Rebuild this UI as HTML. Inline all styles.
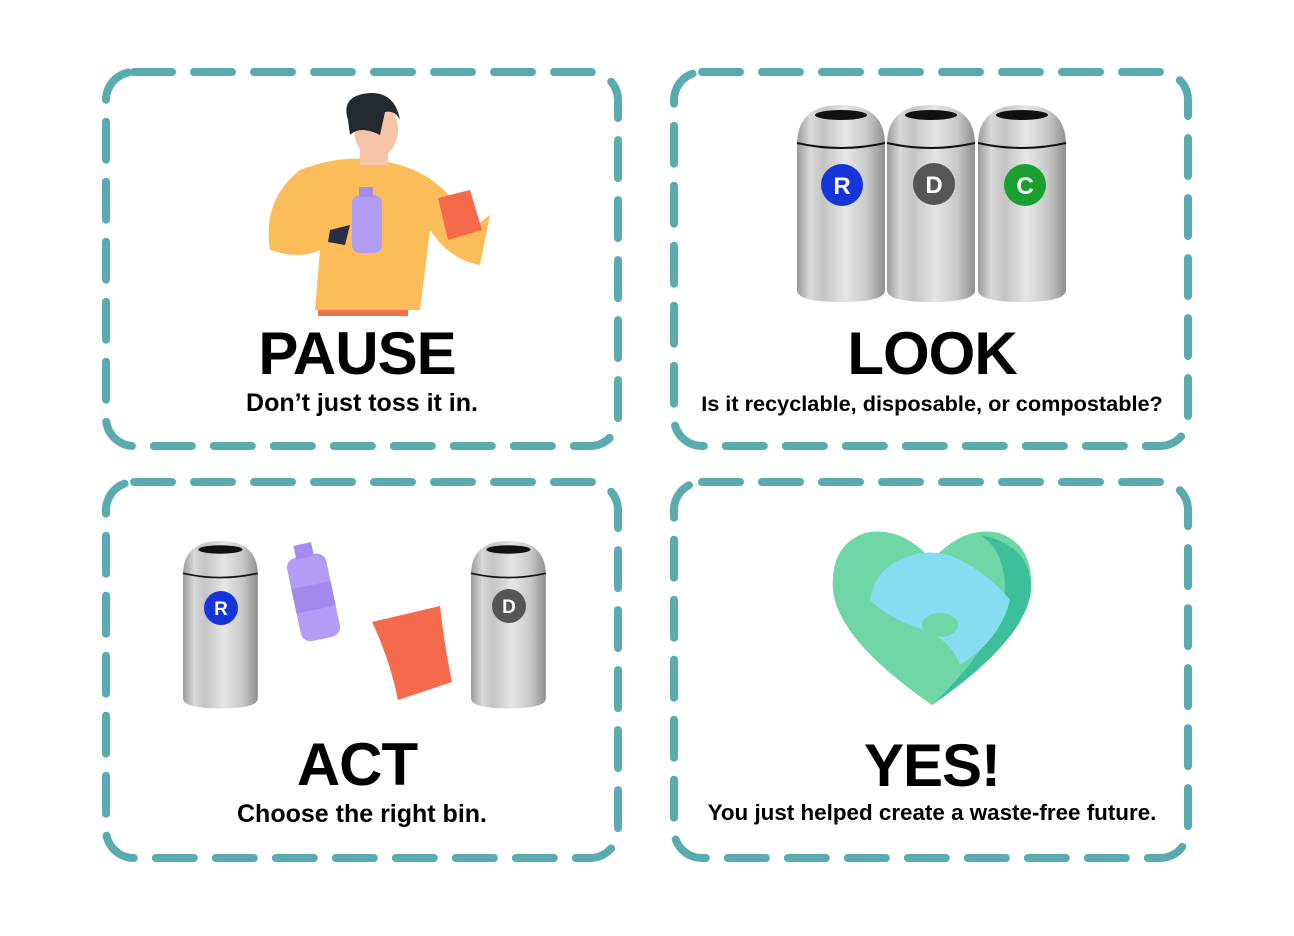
<!DOCTYPE html>
<html><head><style>html,body{margin:0;padding:0;background:#fff}svg{display:block}</style></head><body>
<svg width="1294" height="936" viewBox="0 0 1294 936" xmlns="http://www.w3.org/2000/svg" font-family="Liberation Sans, sans-serif">
<defs>
<linearGradient id="g" x1="0" x2="1" y1="0" y2="0">
<stop offset="0" stop-color="#9a9a9a"/><stop offset="0.15" stop-color="#d8d8d8"/><stop offset="0.3" stop-color="#c4c4c4"/><stop offset="0.55" stop-color="#e6e6e6"/><stop offset="0.8" stop-color="#c8c8c8"/><stop offset="1" stop-color="#8e8e8e"/>
</linearGradient>
<g id="bin">
<path d="M0,40 Q0,0 44,0 Q88,0 88,40 L88,185 Q88,197 44,197 Q0,197 0,185 Z" fill="url(#g)"/>
<ellipse cx="44" cy="10" rx="26" ry="5" fill="#111"/>
<path d="M0,38 Q44,48 88,38" stroke="#111" stroke-width="2" fill="none"/>
</g>
</defs>
<g fill="none" stroke="#5aabb0" stroke-width="8" stroke-linecap="round" stroke-dasharray="38 22">
<rect x="106" y="72" width="512" height="374" rx="28"/>
<rect x="674" y="72" width="514" height="374" rx="28"/>
<rect x="106" y="482" width="512" height="376" rx="28"/>
<rect x="674" y="482" width="514" height="376" rx="28"/>
</g>
<!-- person -->
<rect x="318" y="300" width="90" height="16" fill="#f07050"/>
<path d="M300,170 Q350,150 400,165 Q450,180 470,230 L490,215 L480,265 Q450,260 430,230 L420,310 L315,310 L320,250 Q300,260 270,250 Q262,200 300,170Z" fill="#fbbd5a"/>
<rect x="360" y="135" width="28" height="30" fill="#f6c4a8"/>
<ellipse cx="376" cy="130" rx="22" ry="28" fill="#f6c4a8"/>
<path d="M348,120 Q340,95 370,93 Q395,92 400,120 Q395,110 385,112 L380,135 Q360,125 350,135Z" fill="#222a30"/>
<rect x="352" y="195" width="30" height="58" rx="8" fill="#b39cf5"/>
<rect x="359" y="187" width="14" height="10" fill="#a58cf0"/>
<path d="M438,198 L470,190 L482,230 L448,240Z" fill="#f46a4a"/>
<path d="M330,230 L350,225 L345,245 L328,242Z" fill="#2a2e44"/>
<text x="357" y="374" font-size="60" font-weight="900" text-anchor="middle" letter-spacing="-1">PAUSE</text>
<text x="362" y="411" font-size="25" font-weight="bold" text-anchor="middle">Don’t just toss it in.</text>
<!-- look bins -->
<use href="#bin" x="797" y="105"/>
<use href="#bin" x="887" y="105"/>
<use href="#bin" x="978" y="105"/>
<circle cx="842" cy="185" r="21" fill="#1535d8"/><text x="842" y="194" font-size="24" font-weight="900" fill="#fff" text-anchor="middle">R</text>
<circle cx="934" cy="184" r="21" fill="#555"/><text x="934" y="193" font-size="24" font-weight="900" fill="#fff" text-anchor="middle">D</text>
<circle cx="1025" cy="185" r="21" fill="#1aa030"/><text x="1025" y="194" font-size="24" font-weight="900" fill="#fff" text-anchor="middle">C</text>
<text x="932" y="374" font-size="60" font-weight="900" text-anchor="middle" letter-spacing="-1">LOOK</text>
<text x="932" y="411" font-size="21.7" font-weight="bold" text-anchor="middle">Is it recyclable, disposable, or compostable?</text>
<!-- act -->
<g transform="translate(183,541) scale(0.85)"><use href="#bin"/></g>
<g transform="translate(471,541) scale(0.85)"><use href="#bin"/></g>
<circle cx="221" cy="608" r="17" fill="#1535d8"/><text x="221" y="615" font-size="19" font-weight="900" fill="#fff" text-anchor="middle">R</text>
<circle cx="509" cy="606" r="17" fill="#555"/><text x="509" y="613" font-size="19" font-weight="900" fill="#fff" text-anchor="middle">D</text>
<g transform="rotate(-12 312 590)"><rect x="292" y="555" width="40" height="85" rx="10" fill="#b39cf5"/><rect x="292" y="585" width="40" height="25" fill="#a08aec"/><rect x="303" y="543" width="18" height="14" fill="#a58cf0"/></g>
<path d="M372,622 L440,606 Q445,650 452,682 L398,700 Q390,660 372,622Z" fill="#f46a4a"/>
<text x="357" y="785" font-size="60" font-weight="900" text-anchor="middle" letter-spacing="-1">ACT</text>
<text x="362" y="822" font-size="25" font-weight="bold" text-anchor="middle">Choose the right bin.</text>
<!-- heart -->
<path d="M932,560 Q900,525 865,533 Q830,545 833,590 Q838,640 932,705 Q1026,640 1031,590 Q1034,545 999,533 Q964,525 932,560Z" fill="#6fd6a6"/>
<path d="M980,535 Q1032,545 1031,590 Q1026,640 932,705 Q1000,640 1005,590 Q1005,550 980,535Z" fill="#3dc09a"/>
<path d="M900,560 Q930,545 960,560 Q990,575 1010,600 Q1000,640 960,665 Q950,640 925,630 Q890,620 870,600 Q875,570 900,560Z" fill="#86dcf0"/>
<ellipse cx="940" cy="625" rx="18" ry="12" fill="#6fd6a6"/>
<text x="932" y="786" font-size="60" font-weight="900" text-anchor="middle" letter-spacing="-1">YES!</text>
<text x="932" y="820" font-size="22.4" font-weight="bold" text-anchor="middle">You just helped create a waste-free future.</text>
</svg>
</body></html>
